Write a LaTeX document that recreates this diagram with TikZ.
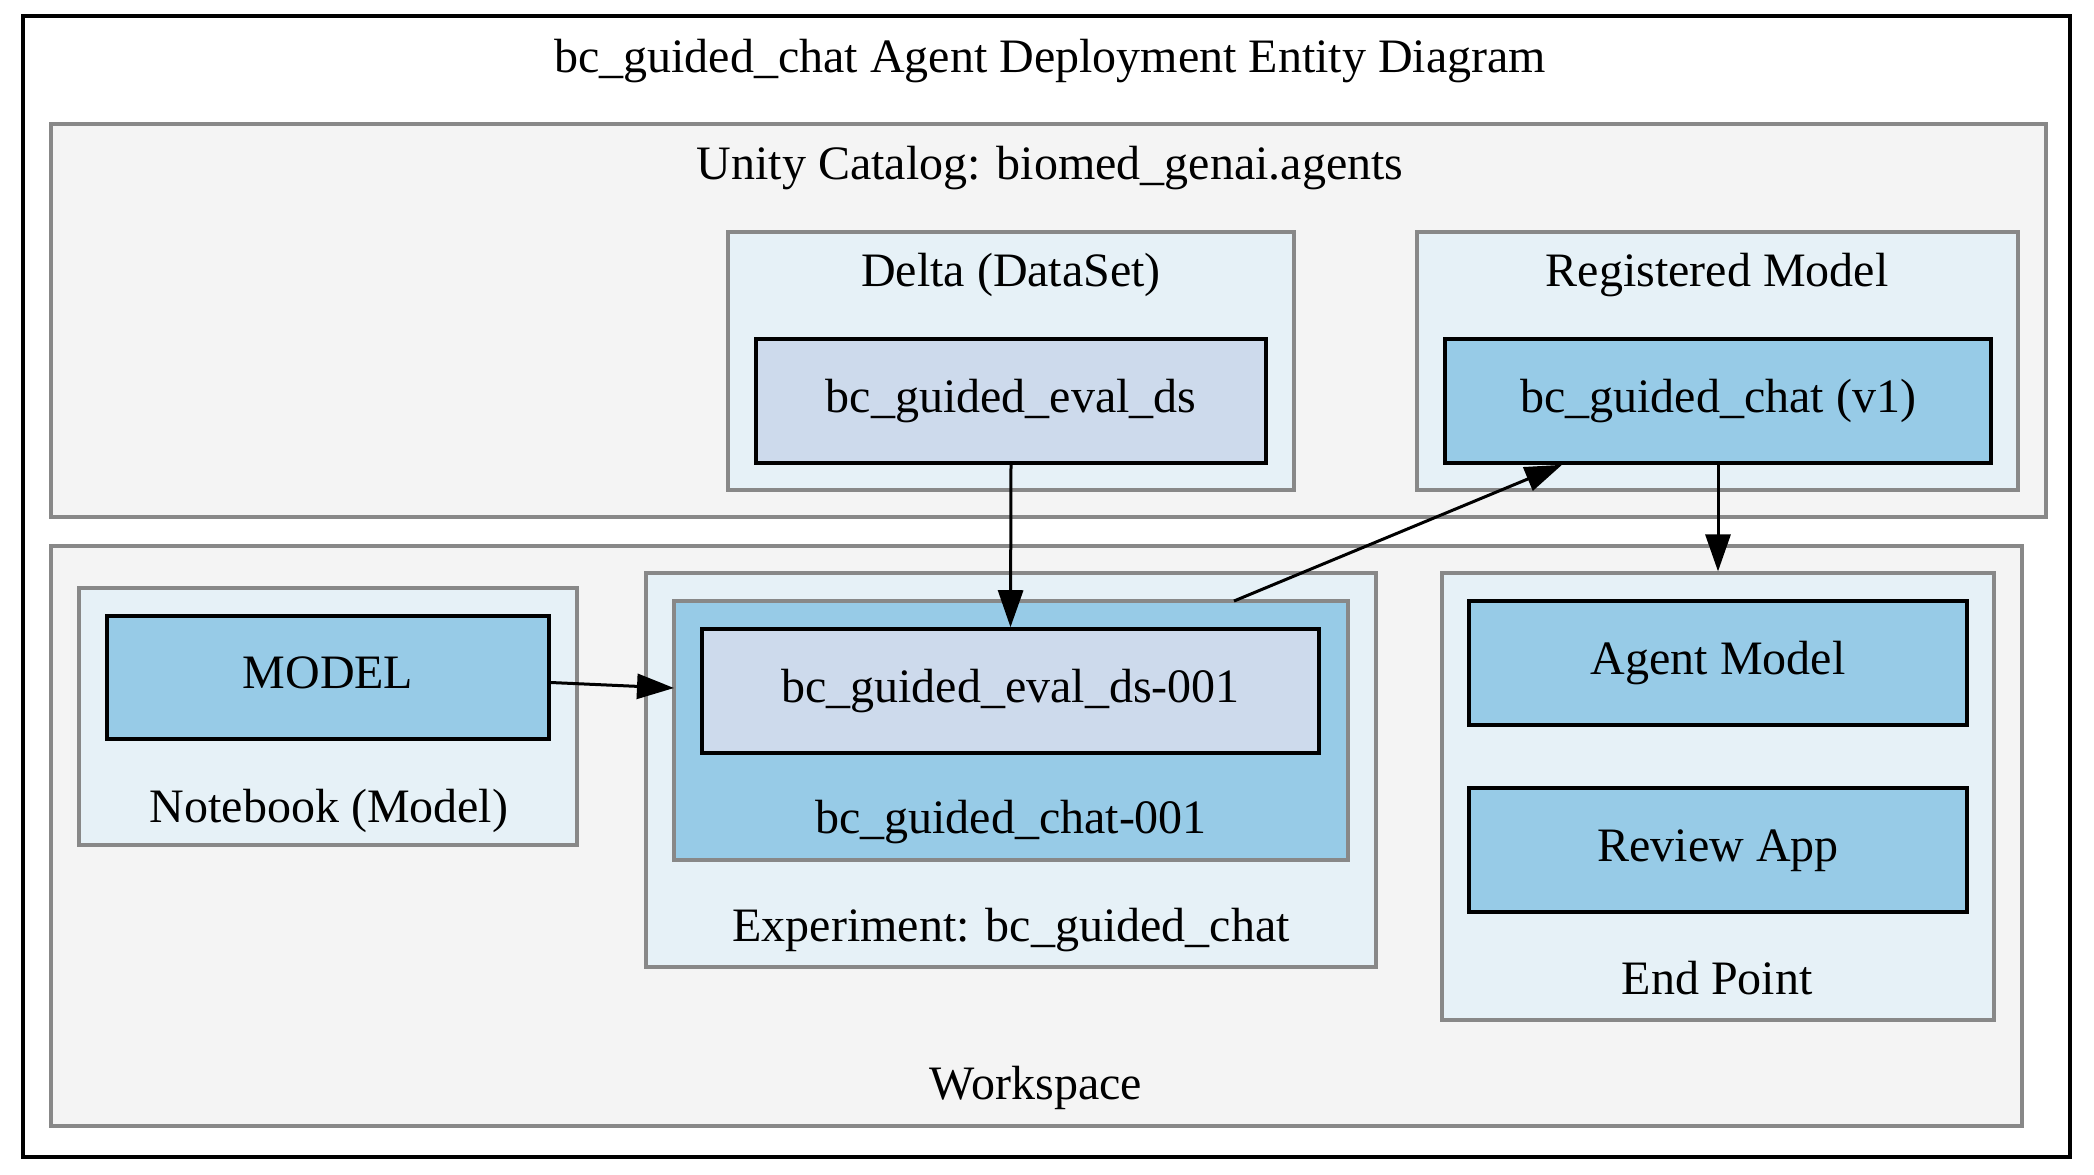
\documentclass[tikz,border=0pt]{standalone}
\usepackage{fontspec}
\setmainfont{Liberation Serif}
\usetikzlibrary{fit,arrows.meta}
\definecolor{clgray}{HTML}{F4F4F4}
\definecolor{cllight}{HTML}{E6F1F7}
\definecolor{nodesky}{HTML}{97CBE7}
\definecolor{nodesteel}{HTML}{CDDAEC}
\definecolor{bordergray}{HTML}{888888}
\begin{document}
\begin{tikzpicture}[x=0.5pt,y=-0.5pt,
  txt/.style={font=\fontsize{24}{29}\selectfont, text height=16.4pt, text depth=5.2pt, inner sep=0},
  outerbox/.style={draw=black, line width=2pt, fill=white, inner sep=0},
  graycl/.style={draw=bordergray, line width=1.6pt, fill=clgray, inner sep=0},
  lightcl/.style={draw=bordergray, line width=1.6pt, fill=cllight, inner sep=0},
  runcl/.style={draw=bordergray, line width=1.6pt, fill=nodesky, inner sep=0},
  skybox/.style={draw=black, line width=1.8pt, fill=nodesky, inner sep=0, txt, minimum height=62pt},
  steelbox/.style={draw=black, line width=1.8pt, fill=nodesteel, inner sep=0, txt, minimum height=62pt},
  edge/.style={line width=1.5pt, -{Triangle[length=18.5pt,width=12.5pt]}}]
\path[fill=white] (0,0) rectangle (2094,1174);
\useasboundingbox (0,0) rectangle (2094,1174);
% outer graph
\node[outerbox, fit={(23,16) (2070,1157)}] (diagram) {};
\node[txt] (title) at (1050,61) {bc\_guided\_chat Agent Deployment Entity Diagram};
% Unity Catalog
\node[graycl, fit={(51,124) (2046,517)}] (uc) {};
\node[txt] (uclabel) at (1050,168) {Unity Catalog: biomed\_genai.agents};
\node[lightcl, fit={(728,232) (1294,490)}] (delta) {};
\node[txt] (deltalabel) at (1011,275) {Delta (DataSet)};
\node[steelbox, minimum width=255pt] (evalds) at (1011,401) {bc\_guided\_eval\_ds};
\node[lightcl, fit={(1417,232) (2018,490)}] (regmodel) {};
\node[txt] (reglabel) at (1717,275) {Registered Model};
\node[skybox, minimum width=273pt] (v1) at (1718,401) {bc\_guided\_chat (v1)};
% Workspace
\node[graycl, fit={(51,546) (2022,1126)}] (workspace) {};
\node[txt] (wslabel) at (1036,1088) {Workspace};
\node[lightcl, fit={(79,588) (577,845)}] (notebook) {};
\node[txt] (nblabel) at (329,811) {Notebook (Model)};
\node[skybox, minimum width=221pt, minimum height=61.5pt] (model) at (328,677.5) {MODEL};
\node[lightcl, fit={(646,573) (1376,967)}] (experiment) {};
\node[txt] (explabel) at (1011,930) {Experiment: bc\_guided\_chat};
\node[runcl, fit={(674,601) (1348,860)}] (run) {};
\node[txt] (runlabel) at (1011,822) {bc\_guided\_chat-001};
\node[steelbox, minimum width=308.5pt] (evalds001) at (1010.5,691) {bc\_guided\_eval\_ds-001};
\node[lightcl, fit={(1442,573) (1994,1020)}] (endpoint) {};
\node[txt] (eplabel) at (1717,983) {End Point};
\node[skybox, minimum width=249pt] (agent) at (1718,663) {Agent Model};
\node[skybox, minimum width=249pt] (review) at (1718,850) {Review App};
% connectors
\coordinate (runin) at (674,688);
\coordinate (runout) at (1234,601);
\coordinate (xv1) at (1562,0);
\draw[edge] (evalds.south) -- (evalds001.north);
\draw[edge] ([yshift=-2.5pt]model.east) -- (runin);
\draw[edge] (runout) -- (v1.south -| xv1);
\draw[edge] (v1.south) -- (endpoint.north);
\end{tikzpicture}
\end{document}
